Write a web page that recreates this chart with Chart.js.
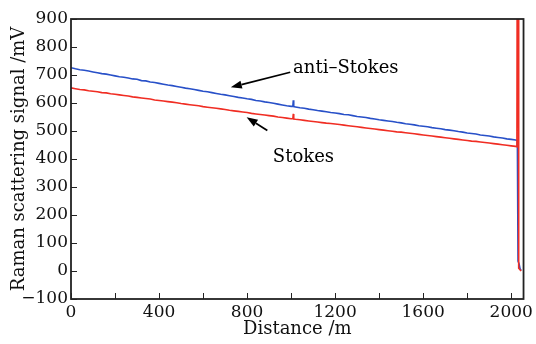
<!DOCTYPE html>
<html>
<head>
<meta charset="utf-8">
<script src="https://cdn.jsdelivr.net/npm/chart.js@4.4.0/dist/chart.umd.min.js"></script>
<style>
  html, body { margin: 0; padding: 0; background: #fff; }
  #wrap { width: 536px; height: 344px; }
</style>
</head>
<body>
<div id="wrap"><canvas id="ramanChart"></canvas></div>
<script>
// ===== Data (20 m sampling) =====
const antiStokes = [
  726, 722, 719, 717, 714, 711, 708, 705, 703, 700,
  697, 694, 692, 689, 686, 685, 680, 679, 675, 673,
  670, 667, 664, 662, 659, 656, 653, 651, 648, 645,
  642, 640, 637, 634, 631, 629, 626, 623, 620, 618,
  615, 613, 609, 607, 604, 602, 599, 596, 593, 590,
  588,
  586, 583, 581, 578, 576, 573, 571, 569, 566, 564,
  562, 559, 558, 555, 552, 550, 548, 545, 543, 540,
  538, 536, 534, 531, 529, 526, 524, 522, 519, 517,
  515, 512, 510, 508, 505, 503, 501, 498, 496, 493,
  491, 489, 486, 484, 482, 479, 477, 475, 472, 470,
  468
];
const stokes = [
  654, 651, 648, 647, 644, 642, 640, 637, 636, 633,
  631, 629, 627, 625, 622, 620, 618, 616, 614, 611,
  609, 607, 605, 603, 601, 598, 596, 594, 592, 590,
  587, 585, 583, 581, 579, 577, 574, 572, 570, 568,
  566, 563, 561, 559, 557, 555, 553, 550, 548, 546,
  544,
  542, 540, 538, 536, 534, 532, 530, 528, 527, 525,
  523, 521, 519, 517, 515, 513, 511, 509, 507, 505,
  503, 501, 499, 497, 496, 494, 492, 490, 488, 486,
  484, 482, 480, 478, 476, 474, 472, 470, 468, 466,
  464, 463, 461, 459, 457, 455, 453, 451, 449, 447,
  445
];
const distance = antiStokes.map((_, i) => i * 20);

// small spike near 1010 m
const spikeDist = [1008, 1010, 1012];
const antiStokesSpike = [588, 610, 587];
const stokesSpike = [544, 561, 543];

// fibre end
const antiStokesEndDist = [2028, 2031, 2036, 2040, 2045];
const antiStokesEnd = [466, 35, 25, 8, 2];
const stokesEndDist = [2026, 2027, 2033, 2034, 2045];
const stokesEnd = [444, 960, 960, 10, 0];

const yTicks = [-100, 0, 100, 200, 300, 400, 500, 600, 700, 800, 900];
const xTicks = [0, 400, 800, 1200, 1600, 2000];
const xMinor = [0, 200, 400, 600, 800, 1000, 1200, 1400, 1600, 1800, 2000];

// ===== Helpers =====
function buildPoints(dist, vals, sDist, sVals, eDist, eVals) {
    const pts = dist.map((d, i) => ({ x: d, y: vals[i] }));
    sDist.forEach((d, i) => pts.push({ x: d, y: sVals[i] }));
    eDist.forEach((d, i) => pts.push({ x: d, y: eVals[i] }));
    return pts.sort((a, b) => a.x - b.x);
}

const serif = "'DejaVu Serif', serif";

// frame, inward ticks and arrows
const decorPlugin = {
    id: 'decor',
    afterDraw(chart) {
        const { ctx, chartArea: a, scales } = chart;
        const xs = scales.x, ys = scales.y;
        ctx.save();
        ctx.strokeStyle = '#222';
        ctx.lineWidth = 1.8;
        ctx.strokeRect(a.left, a.top, a.right - a.left, a.bottom - a.top);

        ctx.lineWidth = 1;
        ctx.beginPath();
        xs.ticks.forEach(t => {
            const px = Math.round(xs.getPixelForValue(t.value)) + 0.5;
            ctx.moveTo(px, a.bottom);
            ctx.lineTo(px, a.bottom - 6);
        });
        ys.ticks.forEach(t => {
            const py = Math.round(ys.getPixelForValue(t.value)) + 0.5;
            ctx.moveTo(a.left, py);
            ctx.lineTo(a.left + 6, py);
        });
        ctx.stroke();

        // annotations
        const P = (x, y) => [xs.getPixelForValue(x), ys.getPixelForValue(y)];
        function arrow(from, to) {
            const [x1, y1] = P(from[0], from[1]);
            const [x2, y2] = P(to[0], to[1]);
            const ang = Math.atan2(y2 - y1, x2 - x1);
            const len = 11, half = 4;
            const bx = x2 - len * Math.cos(ang), by = y2 - len * Math.sin(ang);
            ctx.strokeStyle = '#000';
            ctx.lineWidth = 1.7;
            ctx.beginPath();
            ctx.moveTo(x1, y1);
            ctx.lineTo(bx, by);
            ctx.stroke();
            ctx.fillStyle = '#000';
            ctx.beginPath();
            ctx.moveTo(x2, y2);
            ctx.lineTo(bx + half * Math.sin(ang), by - half * Math.cos(ang));
            ctx.lineTo(bx - half * Math.sin(ang), by + half * Math.cos(ang));
            ctx.closePath();
            ctx.fill();
        }
        arrow([996, 710], [726, 656]);
        arrow([892, 502], [798, 549]);

        ctx.fillStyle = '#000';
        ctx.font = "18px " + serif;
        ctx.textBaseline = 'middle';
        ctx.textAlign = 'left';
        let [tx, ty] = P(1009, 724);
        ctx.fillText('anti\u2013Stokes', tx, ty);
        [tx, ty] = P(917, 406);
        ctx.fillText('Stokes', tx, ty);
        ctx.restore();
    }
};

// ===== Chart =====
function initChart() {
    const ctx = document.getElementById('ramanChart');

    const data = {
        datasets: [
            {
                label: 'Stokes',
                data: buildPoints(distance, stokes, spikeDist, stokesSpike, stokesEndDist, stokesEnd),
                borderColor: 'rgb(240, 45, 35)',
                borderWidth: 1.6,
                pointRadius: 0,
                showLine: true,
                tension: 0
            },
            {
                label: 'anti-Stokes',
                data: buildPoints(distance, antiStokes, spikeDist, antiStokesSpike, antiStokesEndDist, antiStokesEnd),
                borderColor: 'rgb(40, 80, 200)',
                borderWidth: 1.6,
                pointRadius: 0,
                showLine: true,
                tension: 0
            }
        ]
    };

    const config = {
        type: 'scatter',
        data: data,
        options: {
            responsive: true,
            maintainAspectRatio: false,
            animation: false,
            layout: { padding: { top: 19, right: 6, left: 0, bottom: 0 } },
            plugins: {
                legend: { display: false },
                tooltip: { enabled: false }
            },
            scales: {
                x: {
                    type: 'linear',
                    min: 0,
                    max: 2056,
                    afterFit: s => { s.height = 45; },
                    afterBuildTicks: s => {
                        s.ticks = xMinor.map(v => ({ value: v }));
                    },
                    grid: { display: false, drawTicks: false },
                    border: { display: false },
                    ticks: {
                        color: '#111',
                        padding: 3,
                        maxRotation: 0,
                        autoSkip: false,
                        font: { family: serif, size: 17 },
                        callback: v => xTicks.includes(v) ? String(v) : ''
                    },
                    title: {
                        display: true,
                        text: 'Distance /m',
                        color: '#111',
                        font: { family: serif, size: 18 },
                        padding: { top: 0, bottom: 4 }
                    }
                },
                y: {
                    min: -100,
                    max: 900,
                    afterFit: s => { s.width = 71; },
                    afterBuildTicks: s => {
                        s.ticks = yTicks.map(v => ({ value: v }));
                    },
                    grid: { display: false, drawTicks: false },
                    border: { display: false },
                    ticks: {
                        color: '#111',
                        padding: 3,
                        autoSkip: false,
                        font: { family: serif, size: 17 },
                        callback: v => v < 0 ? '\u2212' + Math.abs(v) : String(v)
                    },
                    title: {
                        display: true,
                        text: 'Raman scattering signal /mV',
                        color: '#111',
                        font: { family: serif, size: 18 },
                        padding: { top: 9, bottom: 0 }
                    }
                }
            }
        },
        plugins: [decorPlugin]
    };

    new Chart(ctx, config);
}

document.addEventListener('DOMContentLoaded', initChart);
</script>
</body>
</html>
